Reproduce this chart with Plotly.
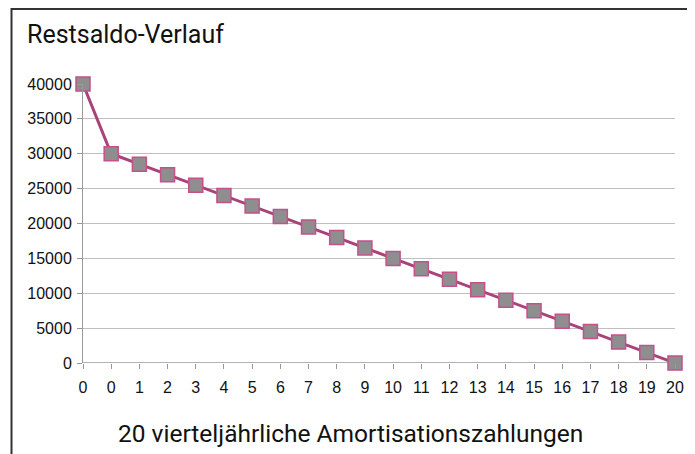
import plotly.graph_objects as go

categories = ["0", "0"] + [str(i) for i in range(1, 21)]
restsaldo = [40000, 30000, 28500, 27000, 25500, 24000, 22500, 21000, 19500, 18000,
             16500, 15000, 13500, 12000, 10500, 9000, 7500, 6000, 4500, 3000, 1500, 0]
y_ticks = [0, 5000, 10000, 15000, 20000, 25000, 30000, 35000, 40000]
y_tick_labels = [str(v) for v in y_ticks]

positions = list(range(len(categories)))

fig = go.Figure()
fig.add_trace(go.Scatter(
    x=positions, y=restsaldo, mode="lines+markers",
    line=dict(color="#A8437A", width=3),
    marker=dict(symbol="square", size=14, color="#8E8E8E",
                line=dict(color="#C4508C", width=1.5)),
    cliponaxis=False, showlegend=False,
))

# page is offset by the 8px body margin
W, H = 687, 446
L, R, T, B = 75, 20, 76, 91
pw, ph = W - L - R, H - T - B

def px(x):
    return (x - L) / pw

def py(y):
    return (H - B - y) / ph

tick_font = dict(family="Liberation Sans", size=16, color="#111111")

fig.update_layout(
    width=W, height=H,
    margin=dict(l=L, r=R, t=T, b=B),
    paper_bgcolor="white", plot_bgcolor="white",
    title=dict(text="Restsaldo-Verlauf", x=19 / W, y=1 - 26 / H,
               xanchor="left", yanchor="middle",
               font=dict(family="Roboto", size=25, color="#111111")),
    xaxis=dict(range=[0, len(categories) - 1], tickmode="array",
               tickvals=positions, ticktext=categories,
               showgrid=False, zeroline=False,
               showline=False, ticks="outside", ticklen=5,
               tickcolor="#999999", tickfont=tick_font,
               ticklabelstandoff=5),
    yaxis=dict(range=[0, 40000], tickmode="array", tickvals=y_ticks,
               ticktext=y_tick_labels,
               showgrid=True, gridcolor="#BFBFBF", gridwidth=1,
               zeroline=False, showline=True, linecolor="#999999",
               ticks="outside", ticklen=5, tickcolor="#999999",
               tickfont=tick_font, ticklabelstandoff=2),
    shapes=[
        dict(type="line", xref="paper", yref="y", x0=0, x1=1, y0=0, y1=0,
             line=dict(color="#999999", width=1.5), layer="below"),
        dict(type="rect", xref="paper", yref="paper",
             x0=px(3.5), x1=px(682.5), y0=py(1), y1=py(470),
             line=dict(color="#333333", width=2)),
    ],
    annotations=[
        dict(text="20 vierteljährliche Amortisationszahlungen", xref="paper", yref="paper",
             x=px(342.5), y=py(425), xanchor="center", yanchor="middle", showarrow=False,
             font=dict(family="Roboto", size=24.5, color="#111111")),
    ],
)

fig.write_html("out.html")
